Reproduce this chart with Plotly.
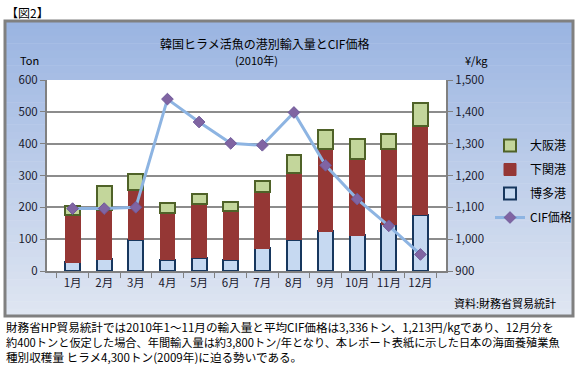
import plotly.graph_objects as go

months = ["1月", "2月", "3月", "4月", "5月", "6月", "7月", "8月", "9月", "10月", "11月", "12月"]
hakata = [28, 37, 98, 35, 41, 35, 72, 98, 125, 113, 147, 176]
shimonoseki = [147, 156, 156, 148, 169, 153, 175, 211, 258, 238, 236, 281]
osaka = [29, 75, 50, 31, 33, 29, 37, 55, 60, 64, 47, 72]
cif = [1096, 1096, 1100, 1440, 1368, 1301, 1295, 1398, 1232, 1126, 1042, 952]

FONT = "Noto Sans CJK JP"
fig = go.Figure()
fig.add_trace(go.Bar(x=months, y=hakata, name="博多港", legendrank=3, legendgroup="c",
                     marker=dict(color="#c6d9f1", line=dict(color="#17375e", width=2))))
fig.add_trace(go.Bar(x=months, y=shimonoseki, name="下関港", legendrank=2, legendgroup="b",
                     marker=dict(color="#953735", line=dict(color="#953735", width=1))))
fig.add_trace(go.Bar(x=months, y=osaka, name="大阪港", legendrank=1, legendgroup="a",
                     marker=dict(color="#c3d69b", line=dict(color="#4f6228", width=2))))
fig.add_trace(go.Scatter(x=months, y=cif, name="CIF価格", yaxis="y2", legendrank=4, legendgroup="d",
                         mode="lines+markers",
                         line=dict(color="#8db4e2", width=3),
                         marker=dict(symbol="diamond", size=9, color="#8064a2",
                                     line=dict(color="#6f5a9a", width=1))))

# plot area px: x 47-446, y 80-271
def px(x):
    return (x - 47) / 399.0
def py(y):
    return (271 - y) / 191.0

shapes = []
top, bot = 21, 316
n = 40
c0 = (0x9b, 0xb5, 0xe2)
c1 = (0xdf, 0xe6, 0xf2)
for i in range(n):
    t = i / (n - 1)
    c = tuple(int(c0[k] + (c1[k] - c0[k]) * t) for k in range(3))
    y0 = top + (bot - top) * i / n
    y1 = top + (bot - top) * (i + 1) / n + 0.5
    shapes.append(dict(type="rect", xref="paper", yref="paper", layer="below",
                       x0=px(5), x1=px(573), y0=py(y0), y1=py(y1),
                       fillcolor="rgb(%d,%d,%d)" % c, line=dict(width=0)))
shapes.append(dict(type="rect", xref="paper", yref="paper", layer="below",
                   x0=0, x1=1, y0=0, y1=1, fillcolor="white", line=dict(width=0)))
shapes.append(dict(type="rect", xref="paper", yref="paper", layer="below",
                   x0=px(5), x1=px(573), y0=py(21), y1=py(316),
                   fillcolor="rgba(0,0,0,0)", line=dict(color="#808080", width=3)))

tick_font = dict(family=FONT, size=11.5, color="#1a1a2e")
annotations = [
    dict(text="【図2】", x=px(4), y=py(12), xanchor="left", yanchor="middle",
         font=dict(family=FONT, size=12, color="black")),
    dict(text="韓国ヒラメ活魚の港別輸入量とCIF価格", x=px(264), y=py(43), xanchor="center", yanchor="middle",
         font=dict(family=FONT, size=12, color="black")),
    dict(text="(2010年)", x=px(256), y=py(60), xanchor="center", yanchor="middle",
         font=dict(family=FONT, size=11, color="black")),
    dict(text="Ton", x=px(29), y=py(60), xanchor="center", yanchor="middle",
         font=dict(family=FONT, size=11, color="black")),
    dict(text="¥/kg", x=px(476), y=py(60), xanchor="center", yanchor="middle",
         font=dict(family=FONT, size=11, color="black")),
    dict(text="資料:財務省貿易統計", x=px(452), y=py(303), xanchor="left", yanchor="middle",
         font=dict(family=FONT, size=11, color="black")),
    dict(text="財務省HP貿易統計では2010年1～11月の輸入量と平均CIF価格は3,336トン、1,213円/kgであり、12月分を",
         x=px(4), y=py(327), xanchor="left", yanchor="middle",
         font=dict(family=FONT, size=11.6, color="black")),
    dict(text="約400トンと仮定した場合、年間輸入量は約3,800トン/年となり、本レポート表紙に示した日本の海面養殖業魚",
         x=px(4), y=py(342), xanchor="left", yanchor="middle",
         font=dict(family=FONT, size=11.2, color="black")),
    dict(text="種別収穫量 ヒラメ4,300トン(2009年)に迫る勢いである。",
         x=px(4), y=py(357), xanchor="left", yanchor="middle",
         font=dict(family=FONT, size=11.6, color="black")),
]
for a in annotations:
    a.update(xref="paper", yref="paper", showarrow=False)

fig.update_layout(
    width=580, height=371,
    margin=dict(l=47, r=134, t=80, b=100, autoexpand=False),
    paper_bgcolor="white", plot_bgcolor="rgba(0,0,0,0)",
    barmode="stack", bargap=0.53,
    showlegend=True,
    legend=dict(x=px(490), y=py(131), xanchor="left", yanchor="top", itemwidth=30,
                traceorder="grouped", tracegroupgap=5, bgcolor="rgba(0,0,0,0)",
                font=dict(family=FONT, size=12, color="black")),
    xaxis=dict(type="category", showline=True, linecolor="#808080", linewidth=2,
               ticks="outside", tickson="boundaries", ticklen=5, tickcolor="#808080",
               tickfont=tick_font, showgrid=False, tickangle=0, automargin=False),
    yaxis=dict(range=[0, 600], dtick=100, showline=True, linecolor="#808080", linewidth=2,
               ticks="outside", ticklen=5, tickcolor="#808080", automargin=False,
               gridcolor="#8c8c8c", gridwidth=1.5, tickfont=tick_font, zeroline=False),
    yaxis2=dict(range=[900, 1500], dtick=100, overlaying="y", side="right",
                showline=True, linecolor="#808080", linewidth=2, automargin=False,
                ticks="outside", ticklen=5, tickcolor="#808080", tickformat=",",
                showgrid=False, tickfont=tick_font, zeroline=False),
    shapes=shapes, annotations=annotations,
    font=dict(family=FONT),
)
fig.write_html("out.html", config={"displayModeBar": False},
               post_script="document.body.style.margin='0';document.body.style.overflow='hidden';")
